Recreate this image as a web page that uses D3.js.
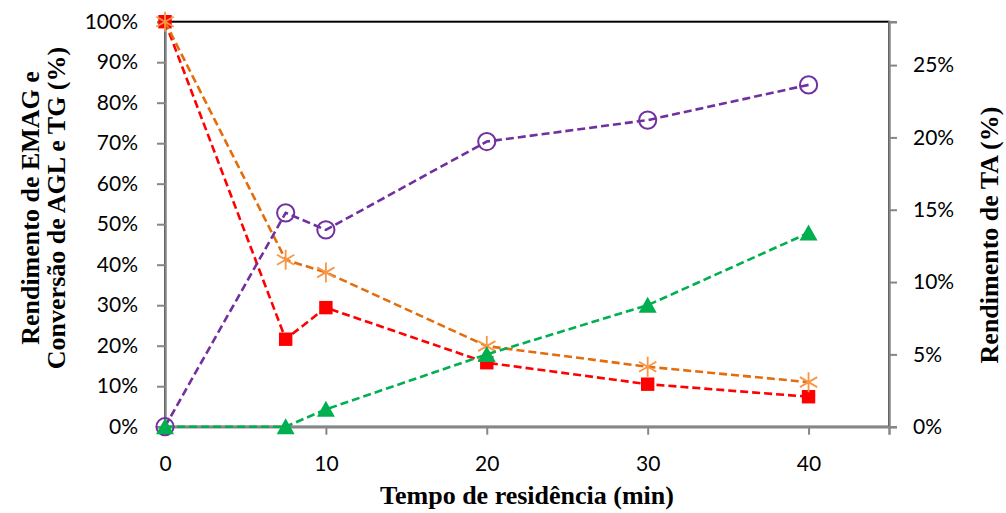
<!DOCTYPE html>
<html>
<head>
<meta charset="utf-8">
<script src="https://cdn.jsdelivr.net/npm/d3@7"></script>
<style>
  body { margin: 0; background: #fff; }
  .tick-label { font-family: Lato, 'Open Sans', sans-serif; font-size: 21px; fill: #000; }
  .axis-title { font-family: 'Liberation Serif', 'Times New Roman', serif; font-weight: bold; font-size: 26px; fill: #000; }
</style>
</head>
<body>
<svg id="chart"></svg>
<script>
// dados
const tempo = [0, 7.5, 10, 20, 30, 40];
const serieTG = [100, 21.6, 29.4, 15.8, 10.5, 7.4];     // vermelho, quadrado
const serieAGL = [100, 41.2, 38.1, 19.9, 14.8, 11.0];   // laranja, asterisco
const serieEMAG = [0, 52.8, 48.6, 70.4, 75.7, 84.4];    // roxo, círculo
const serieTA = [0, 0, 1.2, 5.0, 8.4, 13.4];           // verde, triângulo (eixo direito)

const xTicks = [0, 10, 20, 30, 40];
const yLeftTicks = [0, 10, 20, 30, 40, 50, 60, 70, 80, 90, 100];
const yRightTicks = [0, 5, 10, 15, 20, 25];

const width = 1006;
const height = 513;
const plot = { left: 165, right: 889, top: 21.7, bottom: 426.7 };

const svg = d3.select('#chart')
  .attr('width', width)
  .attr('height', height);

const x = d3.scaleLinear().domain([0, 45]).range([plot.left, plot.right]);
const yL = d3.scaleLinear().domain([0, 100]).range([plot.bottom, plot.top]);
const yR = d3.scaleLinear().domain([0, 28]).range([plot.bottom, plot.top]);

/* borda da área do gráfico */
svg.append('rect')
  .attr('x', plot.left)
  .attr('y', plot.top)
  .attr('width', plot.right - plot.left)
  .attr('height', plot.bottom - plot.top)
  .attr('fill', 'none')
  .attr('stroke', '#000')
  .attr('stroke-width', 2);

const axisColor = '#868686';

/* eixo X */
const xAxis = svg.append('g')
  .attr('transform', `translate(0,${plot.bottom})`)
  .call(d3.axisBottom(x).tickValues(xTicks).tickSize(8).tickPadding(21).tickFormat(d3.format('d')));

/* eixo esquerdo */
const yAxisL = svg.append('g')
  .attr('transform', `translate(${plot.left},0)`)
  .call(d3.axisLeft(yL).tickValues(yLeftTicks).tickSize(8).tickPadding(19).tickFormat(d => d + '%'));

/* eixo direito */
const yAxisR = svg.append('g')
  .attr('transform', `translate(${plot.right},0)`)
  .call(d3.axisRight(yR).tickValues(yRightTicks).tickSize(8).tickPadding(16).tickFormat(d => d + '%'));

[xAxis, yAxisL, yAxisR].forEach(ax => {
  ax.select('.domain').attr('stroke', axisColor).attr('stroke-width', 2.5);
  ax.selectAll('.tick line').attr('stroke', axisColor).attr('stroke-width', 2);
  ax.selectAll('.tick text').attr('class', 'tick-label').attr('font-family', null).attr('font-size', null);
});
// sem traço no 0 do eixo X (fica em cima do eixo esquerdo)
xAxis.selectAll('.tick').filter(d => d === 0).select('line').remove();
xAxis.selectAll('.tick text').attr('dy', '0.71em');

/* séries */
const series = [
  { values: serieTG, scale: yL, line: '#FF0000', marker: 'square', fill: '#FF0000' },
  { values: serieAGL, scale: yL, line: '#E46C0A', marker: 'star', fill: '#F79646' },
  { values: serieEMAG, scale: yL, line: '#7030A0', marker: 'circle', fill: '#7030A0' },
  { values: serieTA, scale: yR, line: '#00B050', marker: 'triangle', fill: '#00B050' }
];

series.forEach(s => {
  const pts = tempo.map((t, i) => [t, s.values[i]]);
  const line = d3.line().x(d => x(d[0])).y(d => s.scale(d[1]));
  const g = svg.append('g');

  g.append('path')
    .datum(pts)
    .attr('d', line)
    .attr('fill', 'none')
    .attr('stroke', s.line)
    .attr('stroke-width', 2.6)
    .attr('stroke-dasharray', '8,4');

  const m = g.selectAll('g.marker')
    .data(pts)
    .enter()
    .append('g')
    .attr('class', 'marker')
    .attr('transform', d => `translate(${x(d[0])},${s.scale(d[1])})`);

  if (s.marker === 'square') {
    m.append('rect')
      .attr('x', -6.7).attr('y', -6.7)
      .attr('width', 13.4).attr('height', 13.4)
      .attr('fill', s.fill);
  } else if (s.marker === 'circle') {
    m.append('circle')
      .attr('r', 8.6)
      .attr('fill', 'none')
      .attr('stroke', s.fill)
      .attr('stroke-width', 2);
  } else if (s.marker === 'triangle') {
    m.append('path')
      .attr('d', 'M0,-8.5L9,7.5L-9,7.5Z')
      .attr('fill', s.fill);
  } else {
    // asterisco: X + traço vertical
    const r = 10;
    const k = r * Math.cos(Math.PI / 6);
    m.append('path')
      .attr('d', `M0,${-r}L0,${r}M${-k},${-r / 2}L${k},${r / 2}M${-k},${r / 2}L${k},${-r / 2}`)
      .attr('stroke', s.fill)
      .attr('stroke-width', 1.8)
      .attr('fill', 'none');
  }
});

/* títulos dos eixos */
svg.append('text')
  .attr('class', 'axis-title')
  .attr('x', 527)
  .attr('y', 504)
  .attr('text-anchor', 'middle')
  .text('Tempo de residência (min)');

const leftTitle = svg.append('text')
  .attr('class', 'axis-title')
  .attr('transform', 'translate(27,208) rotate(-90)')
  .attr('text-anchor', 'middle');
leftTitle.append('tspan').attr('x', 0).attr('y', 12).text('Rendimento de EMAG e');
leftTitle.append('tspan').attr('x', 0).attr('y', 38).text('Conversão de AGL e TG (%)');

svg.append('text')
  .attr('class', 'axis-title')
  .attr('transform', 'translate(998,235) rotate(-90)')
  .attr('text-anchor', 'middle')
  .text('Rendimento de TA (%)');
</script>
</body>
</html>
